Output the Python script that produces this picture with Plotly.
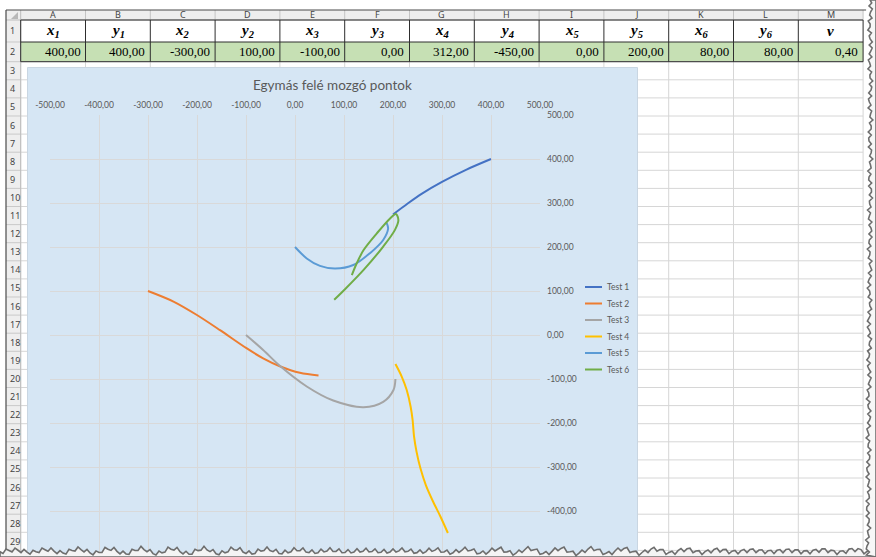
import math
import plotly.graph_objects as go

FIG_W, FIG_H = 876, 557

# ---- worksheet contents ----
col_letters = ["A", "B", "C", "D", "E", "F", "G", "H", "I", "J", "K", "L", "M"]
head_vars = ["x", "y", "x", "y", "x", "y", "x", "y", "x", "y", "x", "y", "v"]
head_subs = ["1", "1", "2", "2", "3", "3", "4", "4", "5", "5", "6", "6", ""]
start_values = [400.00, 400.00, -300.00, 100.00, -100.00, 0.00,
                312.00, -450.00, 0.00, 200.00, 80.00, 80.00, 0.40]
row_numbers = list(range(1, 30))

# ---- chart data ----
chart_title = "Egymás felé mozgó pontok"
series_names = ["Test 1", "Test 2", "Test 3", "Test 4", "Test 5", "Test 6"]
series_colors = ["#4472C4", "#ED7D31", "#A5A5A5", "#FFC000", "#5B9BD5", "#70AD47"]

test1_x = [400, 350, 300, 260, 230, 200]
test1_y = [400, 376, 348, 322, 299, 274]

test2_x = [-300, -248, -201, -153, -99, -65, -31, 10, 48]
test2_y = [100, 76, 46, 11, -30, -53, -71, -86, -92]

test3_x = [-100, -65, -31, 24, 78, 140, 180, 201, 205]
test3_y = [0, -34, -70, -117, -149, -164, -152, -125, -100]

test4_x = [205, 218, 228, 236, 240, 243, 248, 256, 267, 282, 297, 312]
test4_y = [-66, -95, -125, -163, -193, -231, -265, -303, -341, -379, -413, -450]

test5_x = [0, 24, 51, 82, 119, 153, 180, 190, 187]
test5_y = [200, 174, 157, 151, 159, 186, 216, 242, 255]

test6_x = [80, 102, 140, 180, 204, 211, 206, 194, 167, 140, 126, 116]
test6_y = [80, 104, 148, 201, 239, 261, 275, 265, 231, 193, 163, 136]

series_x = [test1_x, test2_x, test3_x, test4_x, test5_x, test6_x]
series_y = [test1_y, test2_y, test3_y, test4_y, test5_y, test6_y]

axis_ticks = [-500, -400, -300, -200, -100, 0, 100, 200, 300, 400, 500]


def fx(px):
    return px / FIG_W


def fy(py):
    return 1 - py / FIG_H


def num(v):
    return f"{v:.2f}".replace(".", ",")


# ---- sheet geometry (pixels) ----
GRID_LEFT, GRID_TOP = 6, 10
ROWHDR_R = 20.7
COL_W = 64.8
HDR_BOTTOM, ROW1_BOTTOM, ROW2_BOTTOM = 20, 42, 61.7
ROW_H = 18.1
col_edges = [ROWHDR_R + COL_W * i for i in range(14)]
row_edges = [HDR_BOTTOM, ROW1_BOTTOM, ROW2_BOTTOM] + [ROW2_BOTTOM + ROW_H * k for k in range(1, 28)]
SHEET_R = col_edges[-1]

CHART = dict(x0=27.5, y0=67.5, x1=637.5, y1=FIG_H)
PLOT = dict(x0=50, x1=540, y0=115, y1=555)

HDR_BG = "#EEEEEE"
GRID_C = "#D6D6D6"
BORDER_C = "#2E2E2E"
CHART_BG = "#D6E6F4"
TEXT_GRAY = "#595959"

shapes = []
annotations = []


def rect(x0, y0, x1, y1, fill, line=None, layer="below"):
    shapes.append(dict(type="rect", xref="paper", yref="paper",
                       x0=fx(x0), x1=fx(x1), y0=fy(y1), y1=fy(y0),
                       fillcolor=fill, layer=layer,
                       line=dict(width=0 if line is None else 1, color=line or fill)))


def seg(x0, y0, x1, y1, color, width=1, layer="below"):
    shapes.append(dict(type="line", xref="paper", yref="paper",
                       x0=fx(x0), x1=fx(x1), y0=fy(y0), y1=fy(y1),
                       layer=layer, line=dict(color=color, width=width)))


def text(x, y, s, size, color="#000000", family="Lato", xanchor="center"):
    annotations.append(dict(xref="paper", yref="paper", x=fx(x), y=fy(y), text=s,
                            showarrow=False, xanchor=xanchor, yanchor="middle",
                            font=dict(size=size, color=color, family=family)))


# header backgrounds
rect(GRID_LEFT, GRID_TOP, SHEET_R, HDR_BOTTOM, HDR_BG)
rect(GRID_LEFT, GRID_TOP, ROWHDR_R, FIG_H, HDR_BG)
# green parameter row
rect(col_edges[0], ROW1_BOTTOM, SHEET_R, ROW2_BOTTOM, "#C6E0B4")

# light cell gridlines
for y in row_edges[2:]:
    seg(ROWHDR_R, y, SHEET_R, y, GRID_C)
for x in col_edges:
    seg(x, ROW2_BOTTOM, x, FIG_H, GRID_C)
# header separators
for x in col_edges[1:]:
    seg(x, GRID_TOP, x, HDR_BOTTOM, "#C4C4C4")
for y in row_edges[1:]:
    seg(GRID_LEFT, y, ROWHDR_R, y, "#C9C9C9")
seg(ROWHDR_R, GRID_TOP, ROWHDR_R, FIG_H, "#BDBDBD")
seg(GRID_LEFT, HDR_BOTTOM, SHEET_R, HDR_BOTTOM, "#BDBDBD")

# bordered table (rows 1-2)
for y in (HDR_BOTTOM, ROW1_BOTTOM, ROW2_BOTTOM):
    seg(col_edges[0], y, SHEET_R, y, BORDER_C)
for x in col_edges:
    seg(x, HDR_BOTTOM, x, ROW2_BOTTOM, BORDER_C)

# outer frame
seg(GRID_LEFT, GRID_TOP, SHEET_R + 3, GRID_TOP, "#4A4A4A", 1.2)
seg(GRID_LEFT, GRID_TOP, GRID_LEFT, FIG_H, "#4A4A4A", 1.2)
# select-all corner mark
shapes.append(dict(type="path", xref="paper", yref="paper", layer="below",
                   path=f"M {fx(18)},{fy(12)} L {fx(18)},{fy(19)} L {fx(11)},{fy(19)} Z",
                   fillcolor="#B8B8B8", line=dict(width=0)))

# chart area
rect(CHART["x0"], CHART["y0"], CHART["x1"], CHART["y1"], CHART_BG, line="#C9D6E2")

# column letters and row numbers
for i, letter in enumerate(col_letters):
    text((col_edges[i] + col_edges[i + 1]) / 2, 15, letter, 9, "#444444", "Noto Sans")
for r in row_numbers:
    text(8, (row_edges[r - 1] + row_edges[r]) / 2, str(r), 9, "#444444", "Noto Sans", "left")

# table header and values
for i in range(13):
    cx = (col_edges[i] + col_edges[i + 1]) / 2
    label = f"<b><i>{head_vars[i]}</i></b>"
    if head_subs[i]:
        label += f"<sub><b><i>{head_subs[i]}</i></b></sub>"
    text(cx, 31, label, 15, "#000000", "Liberation Serif")
    text(col_edges[i + 1] - 3, 52, num(start_values[i]), 13, "#000000",
         "Liberation Serif", "right")

# chart title
text(332, 85, chart_title, 13.5, TEXT_GRAY, "Lato")

# legend
for i, (name, color) in enumerate(zip(series_names, series_colors)):
    ly = 287 + 16.5 * i
    seg(585, ly, 602, ly, color, 2, layer="above")
    text(605, ly, name, 8.5, TEXT_GRAY, "Lato", "left")

# torn paper edges (kept inside the page)
bottom_pts = []
for k in range(0, FIG_W + 1, 3):
    y = 551 + 2.2 * math.sin(k * 0.7) + 1.6 * math.sin(k * 1.9 + 0.5) + 1.0 * math.sin(k * 0.21)
    bottom_pts.append((k, y))
path = f"M {fx(0)},{fy(FIG_H)} " + " ".join(f"L {fx(x)},{fy(y)}" for x, y in bottom_pts) \
       + f" L {fx(FIG_W)},{fy(FIG_H)} Z"
shapes.append(dict(type="path", xref="paper", yref="paper", layer="above", path=path,
                   fillcolor="#F4F4F4", line=dict(color="#6E6E6E", width=1.6)))

right_pts = []
for k in range(0, FIG_H + 1, 3):
    x = 869 + 1.8 * math.sin(k * 0.8) + 1.3 * math.sin(k * 2.1 + 1.0) + 0.8 * math.sin(k * 0.17)
    right_pts.append((x, k))
path = f"M {fx(FIG_W)},{fy(0)} " + " ".join(f"L {fx(x)},{fy(y)}" for x, y in right_pts) \
       + f" L {fx(FIG_W)},{fy(FIG_H)} Z"
shapes.append(dict(type="path", xref="paper", yref="paper", layer="above", path=path,
                   fillcolor="#F7F7F7", line=dict(color="#6E6E6E", width=1.6)))

fig = go.Figure()
for name, color, xs, ys in zip(series_names, series_colors, series_x, series_y):
    fig.add_trace(go.Scatter(x=xs, y=ys, mode="lines", name=name, showlegend=False,
                             line=dict(color=color, width=2, shape="spline", smoothing=0.9),
                             hoverinfo="skip"))

tick_text = [num(t) for t in axis_ticks]
axis_common = dict(range=[-500, 500], tickvals=axis_ticks, ticktext=tick_text,
                   showgrid=True, gridcolor="#D9D9D9", gridwidth=1, zeroline=False,
                   showline=False, ticks="", fixedrange=True, automargin=False,
                   tickfont=dict(size=8.5, color=TEXT_GRAY, family="Lato"))

fig.update_layout(
    width=FIG_W, height=FIG_H, autosize=False,
    margin=dict(l=0, r=0, t=0, b=0, pad=0, autoexpand=False),
    paper_bgcolor="#FFFFFF", plot_bgcolor=CHART_BG,
    showlegend=False,
    xaxis=dict(domain=[fx(PLOT["x0"]), fx(PLOT["x1"])], side="top",
               ticklabelstandoff=4, **axis_common),
    yaxis=dict(domain=[fy(PLOT["y1"]), fy(PLOT["y0"])], side="right",
               ticklabelstandoff=6, **axis_common),
    shapes=shapes, annotations=annotations,
)

fig.write_html("out.html")
